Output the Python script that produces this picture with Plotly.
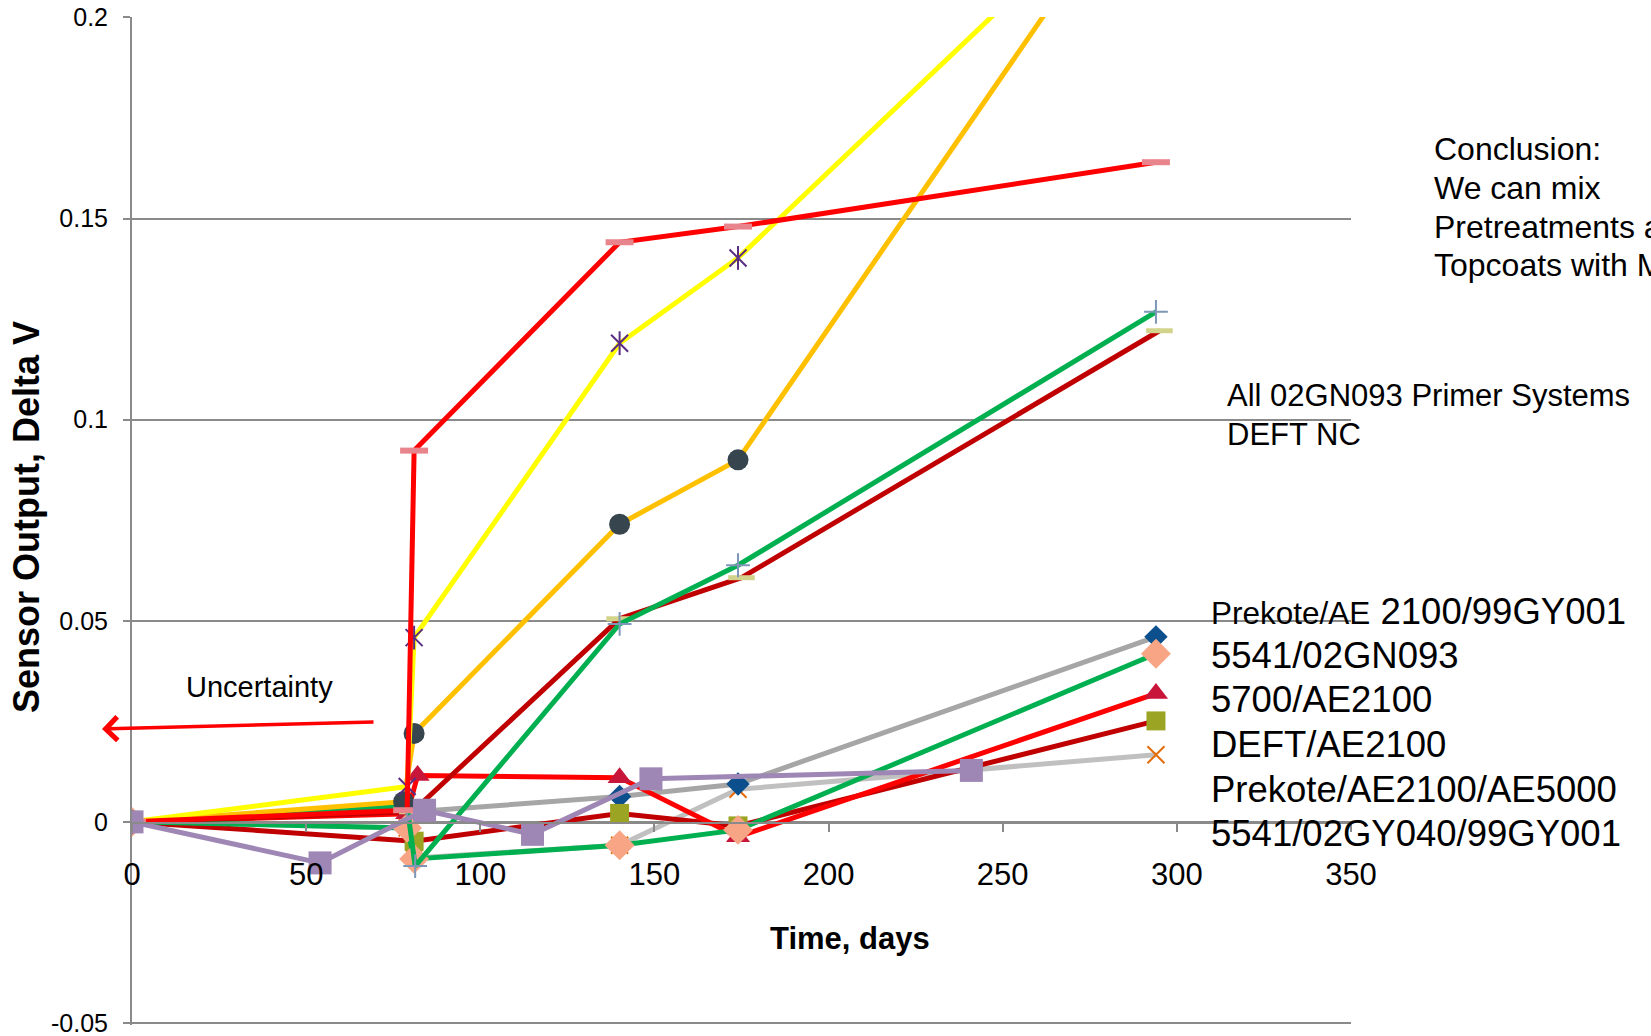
import plotly.graph_objects as go

# ---------------- data ----------------
x_tick_vals = [0, 50, 100, 150, 200, 250, 300, 350]
x_tick_text = ["0", "50", "100", "150", "200", "250", "300", "350"]
y_tick_vals = [-0.05, 0, 0.05, 0.1, 0.15, 0.2]
y_tick_text = ["-0.05", "0", "0.05", "0.1", "0.15", "0.2"]

# lower group
days_prekote_99gy = [0, 81, 140, 174, 294]
dv_prekote_99gy = [0, 0.0025, 0.0063, 0.0094, 0.046]

days_5541_gy040 = [0, 79, 81, 140, 174, 294]
dv_5541_gy040 = [0, -0.0015, -0.009, -0.0058, 0.0081, 0.0167]

days_deft_ae2100 = [0, 81, 140, 174, 294]
dv_deft_ae2100 = [0, -0.0048, 0.0021, -0.001, 0.0251]

days_5700_ae2100 = [0, 79, 82, 140, 174, 294]
dv_5700_ae2100 = [0, 0.002, 0.0115, 0.011, -0.0037, 0.0319]

days_5541_gn093 = [0, 79, 81, 140, 174, 294]
dv_5541_gn093 = [0, -0.0015, -0.0092, -0.0058, -0.002, 0.0418]

days_prekote_ae5000 = [0, 54, 84, 115, 149, 241]
dv_prekote_ae5000 = [0, -0.0102, 0.0029, -0.0031, 0.0107, 0.0128]

# upper group (02GN093 primer systems / DEFT NC)
days_gn_a = [0, 80.5, 140, 175, 295]
dv_gn_a = [0, 0.0025, 0.0505, 0.0607, 0.1221]

days_gn_b = [0, 79, 81.3, 140, 174, 294]
dv_gn_b = [0, 0.0039, -0.011, 0.0492, 0.0638, 0.1268]

days_gn_c = [0, 78, 81, 140, 174, 294]
dv_gn_c = [0, 0.005, 0.022, 0.074, 0.090, 0.241]

days_gn_d = [0, 79, 81, 140, 174, 294]
dv_gn_d = [0, 0.0088, 0.0458, 0.119, 0.1402, 0.239]

days_deft_nc = [0, 79, 81, 140, 174, 294]
dv_deft_nc = [0, 0.0029, 0.0923, 0.1441, 0.148, 0.164]

label_lines = ["5541/02GN093", "5700/AE2100", "DEFT/AE2100",
               "Prekote/AE2100/AE5000", "5541/02GY040/99GY001"]
group_lines = ["All 02GN093 Primer Systems", "DEFT NC"]
conclusion_lines = ["Conclusion:", "We can mix", "Pretreatments a", "Topcoats with M"]

# ---------------- figure ----------------
W, H = 1651, 1036
ML, MR, MT, MB = 132, 300, 17, 11
PW, PH = W - ML - MR, H - MT - MB
FONT = "Liberation Sans, Arial, sans-serif"
GRID = "#8A8A8A"
LW = 5


def px(x):
    return (x - ML) / PW


def py(y):
    return (H - MB - y) / PH


fig = go.Figure()


def add(days, vals, name, color, symbol, mcolor, msize, open_marker=False, mlw=2, extra=None):
    marker = dict(symbol=symbol, size=msize)
    if open_marker:
        marker.update(color=mcolor, line=dict(color=mcolor, width=mlw))
    else:
        marker.update(color=mcolor, line=dict(width=0))
    fig.add_trace(go.Scatter(x=days, y=vals, name=name, mode="lines+markers",
                             line=dict(color=color, width=LW), marker=marker))
    if extra:
        fig.add_trace(go.Scatter(x=days, y=vals, name=name, mode="markers", showlegend=False,
                                 hoverinfo="skip",
                                 marker=dict(symbol=extra, size=msize, color=mcolor,
                                             line=dict(color=mcolor, width=mlw))))


add(days_5541_gy040, dv_5541_gy040, "5541/02GY040/99GY001", "#C0C0C0", "x-thin-open", "#E46C0A", 17, True, 2)
add(days_prekote_99gy, dv_prekote_99gy, "Prekote/AE 2100/99GY001", "#A6A6A6", "diamond", "#0B4F8C", 18)
add(days_deft_ae2100, dv_deft_ae2100, "DEFT/AE2100", "#C00000", "square", "#9CA523", 19)
add(days_5700_ae2100, dv_5700_ae2100, "5700/AE2100", "#FF0000", "triangle-up", "#C8163A", 21)
add(days_5541_gn093, dv_5541_gn093, "5541/02GN093", "#00B050", "diamond", "#F7A585", 23)
add(days_gn_a, dv_gn_a, "02GN093 system A", "#C00000", "line-ew-open", "#D2D48C", 19, True, 5)
add(days_gn_b, dv_gn_b, "02GN093 system B", "#00B050", "cross-thin-open", "#7E97B8", 17, True, 2)
add(days_gn_c, dv_gn_c, "02GN093 system C", "#FFC000", "circle", "#37454F", 21)
add(days_gn_d, dv_gn_d, "02GN093 system D", "#FFFF00", "x-thin-open", "#5B2C83", 17, True, 2, extra="line-ns-open")
add(days_deft_nc, dv_deft_nc, "DEFT NC", "#FF0000", "line-ew-open", "#E8848C", 20, True, 6)
add(days_prekote_ae5000, dv_prekote_ae5000, "Prekote/AE2100/AE5000", "#9E86B5", "square", "#9E86B5", 23)

fig.update_layout(
    width=W, height=H,
    margin=dict(l=ML, r=MR, t=MT, b=MB, autoexpand=False),
    paper_bgcolor="white", plot_bgcolor="white",
    showlegend=False,
    font=dict(family=FONT, color="black"),
    xaxis=dict(range=[0, 350], tickvals=x_tick_vals, ticktext=x_tick_text,
               anchor="free", position=0.2, showgrid=False, zeroline=False,
               showline=True, linecolor=GRID, linewidth=2,
               ticks="outside", ticklen=8, tickcolor=GRID, tickwidth=2,
               tickfont=dict(size=31, family=FONT, color="black"),
               ticklabelstandoff=15, automargin=False),
    yaxis=dict(range=[-0.0505, 0.2001], tickvals=y_tick_vals, ticktext=y_tick_text,
               showgrid=True, gridcolor=GRID, gridwidth=2, zeroline=False,
               showline=True, linecolor=GRID, linewidth=2,
               ticks="outside", ticklen=7, tickcolor=GRID, tickwidth=2,
               tickfont=dict(size=25, family=FONT, color="black"),
               ticklabelstandoff=10, automargin=False, ticklabeloverflow="allow"),
)

ann = []
ann.append(dict(text="<b>Sensor Output, Delta V</b>", textangle=-90,
                x=px(26), y=py(517), xref="paper", yref="paper",
                xanchor="center", yanchor="middle", showarrow=False,
                font=dict(size=36, family=FONT, color="black")))
ann.append(dict(text="<b>Time, days</b>", x=px(850), y=py(938), xref="paper", yref="paper",
                xanchor="center", yanchor="middle", showarrow=False,
                font=dict(size=31, family=FONT, color="black")))
ann.append(dict(text="Uncertainty", x=px(184), y=py(687), xref="paper", yref="paper",
                xanchor="left", yanchor="middle", showarrow=False,
                font=dict(size=29, family=FONT, color="black")))
ann.append(dict(text="", x=px(102), y=py(729), xref="paper", yref="paper",
                showarrow=True, ax=273, ay=-7, arrowcolor="#FF0000",
                arrowwidth=3.5, arrowhead=4, arrowsize=1.3, standoff=0))
# legend-like text block
ann.append(dict(text='<span style="font-size:31.5px">Prekote/AE</span> 2100/99GY001',
                x=px(1209), y=py(611), xref="paper", yref="paper",
                xanchor="left", yanchor="middle", showarrow=False,
                font=dict(size=36.5, family=FONT, color="black")))
for i, t in enumerate(label_lines):
    ann.append(dict(text=t, x=px(1209), y=py(655 + i * 44.7), xref="paper", yref="paper",
                    xanchor="left", yanchor="middle", showarrow=False,
                    font=dict(size=36.5, family=FONT, color="black")))
for i, t in enumerate(group_lines):
    ann.append(dict(text=t, x=px(1225), y=py(395 + i * 39), xref="paper", yref="paper",
                    xanchor="left", yanchor="middle", showarrow=False,
                    font=dict(size=31, family=FONT, color="black")))
for i, t in enumerate(conclusion_lines):
    ann.append(dict(text=t, x=px(1432), y=py(149.5 + i * 38.5), xref="paper", yref="paper",
                    xanchor="left", yanchor="middle", showarrow=False,
                    font=dict(size=32, family=FONT, color="black")))
fig.update_layout(annotations=ann)

fig.write_html("out.html")
